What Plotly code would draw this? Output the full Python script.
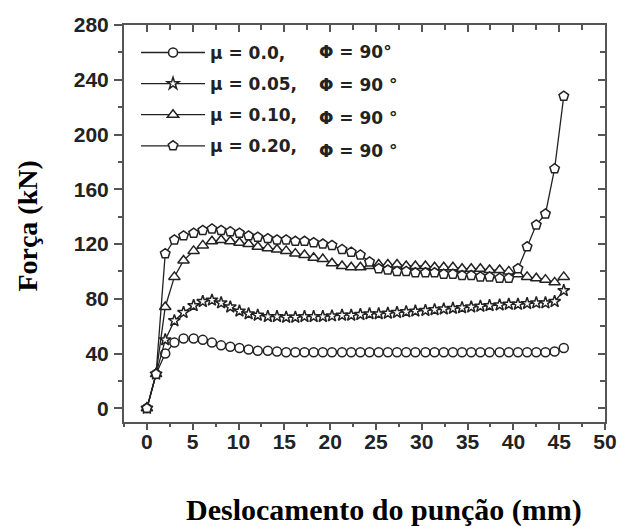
import plotly.graph_objects as go

# Punch displacement (mm) at each recorded step
displacement = [0, 1.0, 2.0, 3.0, 4.0, 5.1, 6.1, 7.1, 8.1, 9.1, 10.1, 11.1, 12.1,
                13.2, 14.2, 15.2, 16.2, 17.2, 18.2, 19.2, 20.2, 21.3, 22.3, 23.3,
                24.3, 25.3, 26.3, 27.3, 28.3, 29.3, 30.4, 31.4, 32.4, 33.4, 34.4,
                35.4, 36.4, 37.4, 38.5, 39.5, 40.5, 41.5, 42.5, 43.5, 44.5, 45.5]

# Punch force (kN) for each friction coefficient
force_mu000 = [0, 25, 40, 48, 51, 51, 50, 48, 46, 45, 44, 43, 42, 42, 41.5, 41,
               41, 41, 41, 41, 41, 41, 41, 41, 41, 41, 41, 41, 41, 41, 41, 41,
               41, 41, 41, 41, 41, 41, 41, 41, 41, 41, 41, 41, 41.5, 44]
force_mu005 = [0, 25, 50, 64, 70, 75, 78, 79, 77, 74, 71, 69, 68, 67, 67, 66.5,
               66.5, 67, 67, 67, 67.5, 68, 68, 68.5, 69, 69, 69.5, 70, 70.5, 71,
               71.5, 72, 72.5, 73, 73.5, 74, 74.5, 75, 75.5, 76, 76, 76.5, 77,
               77, 78, 86]
force_mu010 = [0, 25, 74, 96, 108, 115, 119, 122, 123, 122, 121, 120, 118, 117,
               116, 115, 113, 112, 110, 109, 106, 104, 103, 103, 104, 105, 105,
               105, 104, 104, 104, 103, 103, 103, 102, 102, 102, 101, 101, 100,
               98, 96, 95, 94, 92, 96]
force_mu020 = [0, 25, 113, 123, 126, 128, 130, 131, 130, 129, 128, 126, 125, 124,
               123, 123, 122, 122, 121, 120, 119, 116, 114, 112, 107, 102, 101,
               100, 100, 99, 99, 99, 98, 98, 97, 97, 96, 96, 95, 95, 102, 118,
               134, 142, 175, 228]

series_names = ["μ = 0.0,", "μ = 0.05,", "μ = 0.10,", "μ = 0.20,"]
phi_labels = ["Φ = 90°", "Φ = 90 °", "Φ = 90 °", "Φ = 90 °"]
x_ticks = [0, 5, 10, 15, 20, 25, 30, 35, 40, 45, 50]
y_ticks = [0, 40, 80, 120, 160, 200, 240, 280]

series = [
    (force_mu000, "circle", 9),
    (force_mu005, "star", 9),
    (force_mu010, "triangle-up", 10),
    (force_mu020, "pentagon", 10),
]

INK = "#222222"
AXIS = "#555555"
SANS = "Liberation Sans, Arial, sans-serif"
WIDE = "DejaVu Sans, Verdana, sans-serif"
SERIF = "Liberation Serif, Times New Roman, serif"

fig = go.Figure()
for i, ((ys, symbol, size), name) in enumerate(zip(series, series_names)):
    fig.add_trace(go.Scatter(
        x=displacement, y=ys, name=name, legendgroup=f"g{i}",
        mode="lines+markers",
        line=dict(color=INK, width=1.3),
        marker=dict(symbol=symbol, size=size, color="white",
                    line=dict(color=INK, width=1.5)),
    ))

# Empty trace so the mirrored top/right axes are drawn
fig.add_trace(go.Scatter(x=[None], y=[None], xaxis="x2", yaxis="y2",
                         showlegend=False, hoverinfo="skip"))

tickfont = dict(family=SANS, size=21, color=INK, weight="bold")
common = dict(showgrid=False, zeroline=False, showline=True, linecolor=AXIS,
              linewidth=2, tickcolor=AXIS, tickwidth=1.5)

fig.update_layout(
    width=629, height=526,
    margin=dict(l=124, r=21, t=25, b=104),
    paper_bgcolor="white", plot_bgcolor="white",
    showlegend=True,
    xaxis=dict(range=[-2.5, 50], tickvals=x_ticks, ticks="outside", ticklen=6,
               minor=dict(dtick=2.5, tick0=0, ticks="outside", ticklen=3,
                          tickcolor=AXIS),
               tickfont=tickfont, ticklabelstandoff=-6, **common),
    yaxis=dict(range=[-10, 280], tickvals=y_ticks, ticks="outside", ticklen=8,
               minor=dict(dtick=20, tick0=0, ticks="outside", ticklen=4,
                          tickcolor=AXIS),
               tickfont=tickfont, ticklabelstandoff=1, **common),
    xaxis2=dict(range=[-2.5, 50], overlaying="x", side="top", tickvals=x_ticks,
                ticks="inside", ticklen=7, showticklabels=False,
                minor=dict(dtick=2.5, tick0=0, ticks="inside", ticklen=5,
                           tickcolor=AXIS),
                **common),
    yaxis2=dict(range=[-10, 280], overlaying="y", side="right", tickvals=y_ticks,
                ticks="inside", ticklen=7, showticklabels=False,
                minor=dict(dtick=20, tick0=0, ticks="inside", ticklen=5,
                           tickcolor=AXIS),
                **common),
    legend=dict(x=0.025, y=0.975, xanchor="left", yanchor="top",
                bgcolor="rgba(255,255,255,0)", itemwidth=64,
                tracegroupgap=6,
                font=dict(family=WIDE, size=17, color=INK, weight="bold")),
)

# Axis titles
fig.add_annotation(text="Deslocamento do punção (mm)", xref="paper", yref="paper",
                   x=(386 - 124) / 484, y=-(510 - 422) / 397, xanchor="center",
                   yanchor="middle", showarrow=False,
                   font=dict(family=SERIF, size=30, color="black", weight="bold"))
fig.add_annotation(text="Força (kN)", xref="paper", yref="paper",
                   x=-(124 - 26) / 484, y=(422 - 226) / 397, xanchor="center",
                   yanchor="middle", showarrow=False, textangle=-90,
                   font=dict(family=SERIF, size=28, color="black", weight="bold"))

# Angle column beside the legend entries
for k, lab in enumerate(phi_labels):
    row_y = 52 + 33 * k
    fig.add_annotation(text=lab, xref="paper", yref="paper",
                       x=(318 - 124) / 484, y=(422 - row_y) / 397,
                       xanchor="left", yanchor="middle", showarrow=False,
                       font=dict(family=WIDE, size=17, color=INK, weight="bold"))

fig.write_html("out.html")
